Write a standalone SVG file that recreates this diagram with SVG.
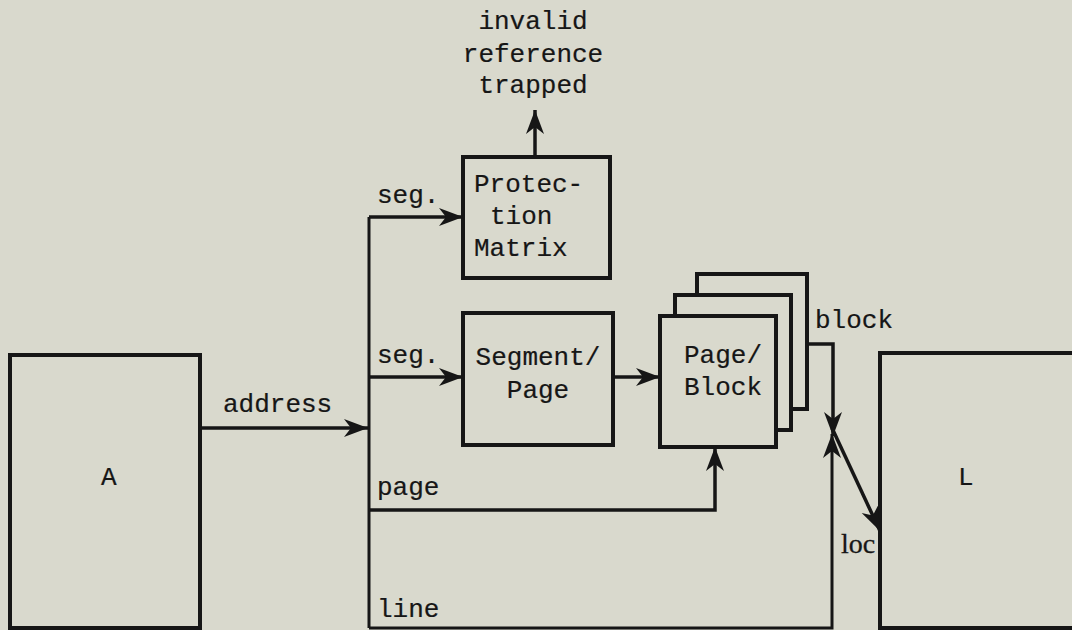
<svg xmlns="http://www.w3.org/2000/svg" width="1072" height="630" viewBox="0 0 1072 630">
  <style>
    .box { fill: none; stroke: #161616; stroke-width: 4; }
    .stack { fill: #d9d9cd; stroke: #161616; stroke-width: 4; }
    .wire { fill: none; stroke: #161616; stroke-width: 3.5; }
    .bus { fill: none; stroke: #161616; stroke-width: 3; }
    .t { font-family: "Liberation Mono", "Courier New", monospace; font-size: 26px; fill: #161616; stroke: #161616; stroke-width: 0.2; }
    .mid { text-anchor: middle; }
    .serif { font-family: "Liberation Serif", "Times New Roman", serif; font-size: 28px; fill: #161616; stroke: #161616; stroke-width: 0.3; }
  </style>
  <defs>
    <marker id="arrow" markerUnits="userSpaceOnUse" markerWidth="26" markerHeight="20" refX="24" refY="10" orient="auto">
      <path d="M0,1 L24,10 L0,19 L7,10 z" fill="#161616"/>
    </marker>
  </defs>

  <rect x="0" y="0" width="1072" height="630" fill="#d9d9cd"/>

  <!-- address source -->
  <g id="nodeA">
    <rect class="box" x="10" y="355" width="190" height="273"/>
    <text class="t" x="101" y="485">A</text>
  </g>

  <!-- protection matrix -->
  <g id="protection">
    <rect class="box" x="463" y="157" width="147" height="121"/>
    <text class="t" x="474" y="192">Protec-</text>
    <text class="t" x="490" y="224">tion</text>
    <text class="t" x="474" y="256">Matrix</text>
  </g>

  <!-- trap output label -->
  <g id="trapped">
    <text class="t mid" x="533" y="29">invalid</text>
    <text class="t mid" x="533" y="62">reference</text>
    <text class="t mid" x="533" y="93">trapped</text>
  </g>

  <!-- segment/page table -->
  <g id="segmentPage">
    <rect class="box" x="463" y="313" width="150" height="132"/>
    <text class="t mid" x="538" y="365">Segment/</text>
    <text class="t mid" x="538" y="398">Page</text>
  </g>

  <!-- stacked page/block tables -->
  <g id="pageBlock">
    <rect class="stack" x="697" y="274" width="110" height="135"/>
    <rect class="stack" x="675" y="295" width="116" height="135"/>
    <rect class="stack" x="660" y="316" width="116" height="131"/>
    <text class="t" x="684" y="363">Page/</text>
    <text class="t" x="684" y="395">Block</text>
  </g>

  <!-- local store -->
  <g id="nodeL">
    <rect class="box" x="880" y="353" width="220" height="275"/>
    <text class="t" x="958" y="485">L</text>
  </g>

  <!-- connectors -->
  <g id="connectors">
    <path class="wire" d="M200,428 H368" marker-end="url(#arrow)"/>
    <path class="bus" d="M369,217 V628"/>
    <path class="wire" d="M369,217 H463" marker-end="url(#arrow)"/>
    <path class="wire" d="M369,377 H463" marker-end="url(#arrow)"/>
    <path class="wire" d="M613,377 H660" marker-end="url(#arrow)"/>
    <path class="wire" d="M369,510 H715 V447" marker-end="url(#arrow)"/>
    <path class="bus" d="M369,628 H832 V434" marker-end="url(#arrow)"/>
    <path class="wire" d="M807,344 H833 V436" marker-end="url(#arrow)"/>
    <path class="wire" d="M832,428 L880,531" marker-end="url(#arrow)"/>
    <path class="wire" d="M535,157 V110" marker-end="url(#arrow)"/>

    <text class="t" x="223" y="412">address</text>
    <text class="t" x="377" y="203">seg.</text>
    <text class="t" x="377" y="363">seg.</text>
    <text class="t" x="377" y="495">page</text>
    <text class="t" x="377" y="617">line</text>
    <text class="t" x="815" y="328">block</text>
    <text class="serif" x="841" y="553">loc</text>
  </g>
</svg>
